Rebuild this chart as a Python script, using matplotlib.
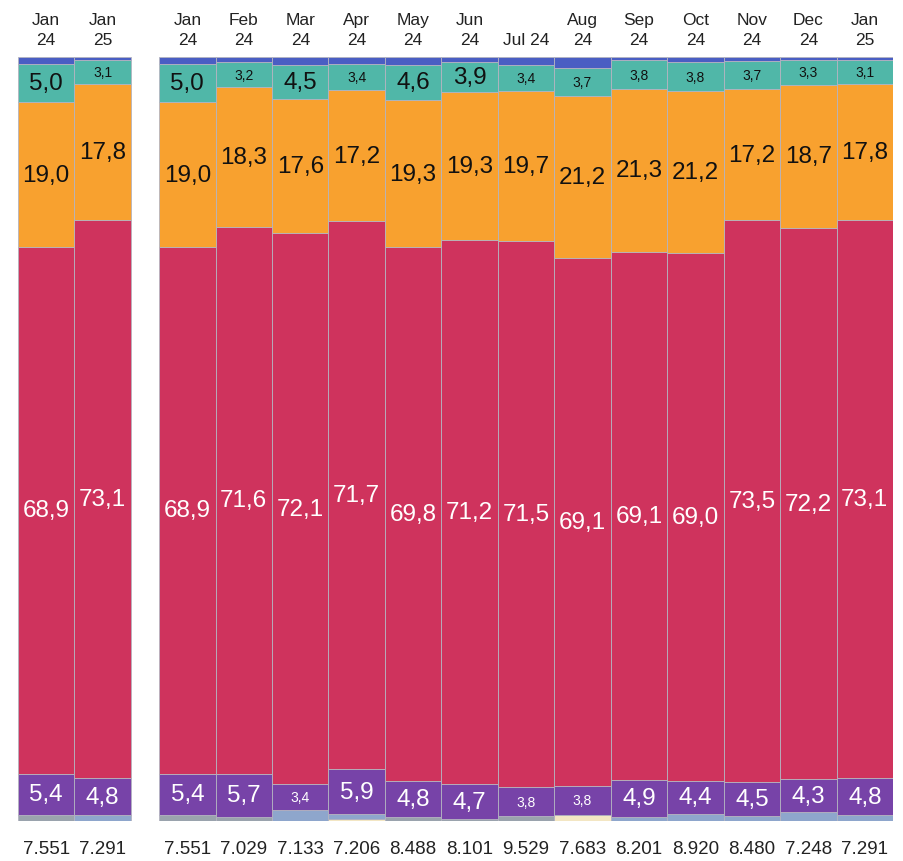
import numpy as np
import matplotlib
matplotlib.use("Agg")
import matplotlib.pyplot as plt

plt.rcParams['font.family'] = ['Liberation Sans', 'DejaVu Sans']

# etiquetas de columnas (dos grupos: comparacion anual y serie mensual)
meses = ["Jan\n24", "Jan\n25",
         "Jan\n24", "Feb\n24", "Mar\n24", "Apr\n24", "May\n24", "Jun\n24", "Jul 24",
         "Aug\n24", "Sep\n24", "Oct\n24", "Nov\n24", "Dec\n24", "Jan\n25"]
totales = ["7.551", "7.291",
           "7.551", "7.029", "7.133", "7.206", "8.488", "8.101", "9.529",
           "7.683", "8.201", "8.920", "8.480", "7.248", "7.291"]

# porcentajes por segmento, de abajo hacia arriba
crema = [0, 0, 0, 0, 0, 0.3, 0, 0, 0, 0.8, 0, 0, 0, 0, 0]
gris = [0.8, 0, 0.8, 0.5, 0, 0, 0.5, 0.2, 0.6, 0, 0, 0, 0, 0, 0]
celeste = [0, 0.8, 0, 0, 1.4, 0.6, 0, 0, 0, 0, 0.5, 0.9, 0.6, 1.15, 0.8]
morado = [5.4, 4.8, 5.4, 5.7, 3.4, 5.9, 4.8, 4.7, 3.8, 3.8, 4.9, 4.4, 4.5, 4.3, 4.8]
rojo = [68.9, 73.1, 68.9, 71.6, 72.1, 71.7, 69.8, 71.2, 71.5, 69.1, 69.1, 69.0, 73.5, 72.2, 73.1]
naranja = [19.0, 17.8, 19.0, 18.3, 17.6, 17.2, 19.3, 19.3, 19.7, 21.2, 21.3, 21.2, 17.2, 18.7, 17.8]
turquesa = [5.0, 3.1, 5.0, 3.2, 4.5, 3.4, 4.6, 3.9, 3.4, 3.7, 3.8, 3.8, 3.7, 3.3, 3.1]
azul = [0.9, 0.4, 0.9, 0.7, 1.0, 0.9, 1.0, 0.7, 1.0, 1.4, 0.4, 0.7, 0.5, 0.35, 0.35]

series = [
    (crema, '#f3e6c3', None),
    (gris, '#9aa3ad', None),
    (celeste, '#8ea6cc', None),
    (morado, '#7743a8', 'white'),
    (rojo, '#cf335d', 'white'),
    (naranja, '#f8a12f', '#111111'),
    (turquesa, '#50b7a8', '#111111'),
    (azul, '#4a5ec3', None),
]

x = np.array([0, 1] + [2.5 + i for i in range(13)])

fig = plt.figure(figsize=(9.04, 8.62), dpi=100)
ax = fig.add_axes([18 / 904, 40 / 862, 875 / 904, 764 / 862])

base = np.zeros(len(x))
for valores, color, txt in series:
    v = np.array(valores, dtype=float)
    ax.bar(x, v, width=1.0, bottom=base, color=color, edgecolor='#b4b4c0', linewidth=0.6)
    if txt is not None:
        for xi, b, val in zip(x, base, v):
            grande = val >= 3.85
            ax.text(xi, b + val / 2, f"{val:.1f}".replace('.', ','),
                    ha='center', va='center', color=txt,
                    fontsize=17.5 if grande else 10)
    base += v

for xi, lab, tot in zip(x, meses, totales):
    ax.text(xi, 101.3, lab, ha='center', va='bottom', fontsize=12.5,
            color='#222222', linespacing=1.45)
    ax.text(xi, -3.6, tot, ha='center', va='center', fontsize=13.5, color='#222222')

ax.set_xlim(-0.5, 15.0)
ax.set_ylim(0, 100)
ax.axis('off')

fig.savefig('out.png', dpi=100, facecolor='white')
